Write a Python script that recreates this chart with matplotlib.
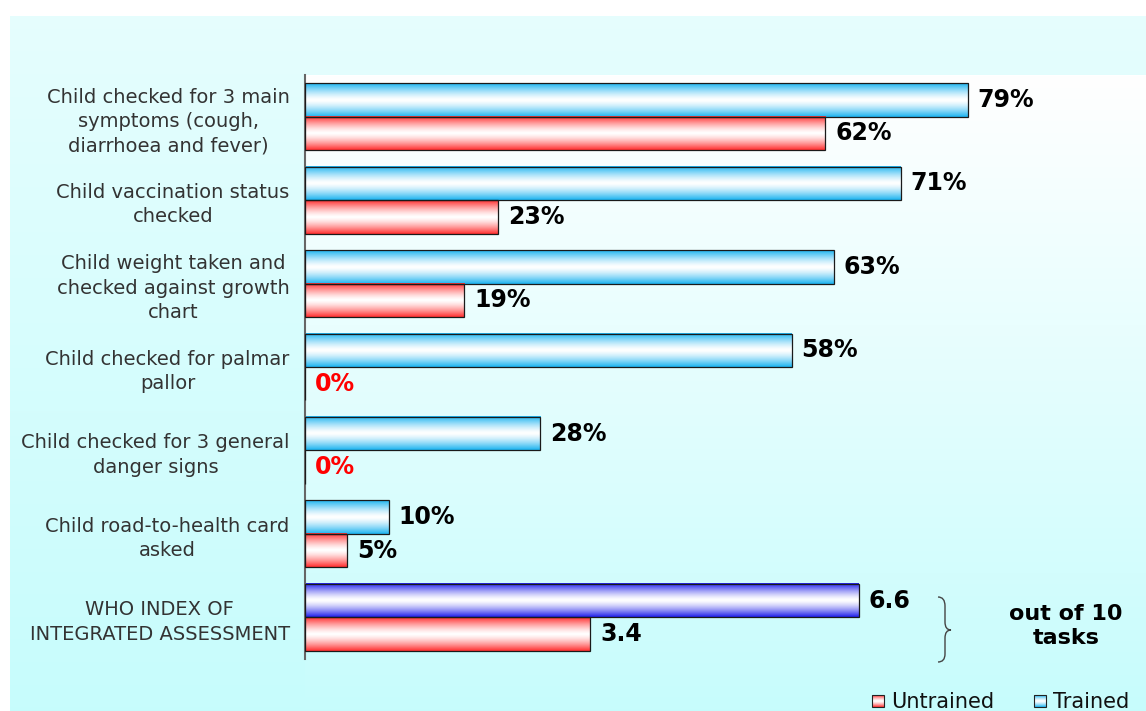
import numpy as np
import matplotlib
import matplotlib.pyplot as plt
from matplotlib.path import Path
from matplotlib.patches import PathPatch, Rectangle

matplotlib.use('Agg')

# Data
CATEGORIES = [
    "Child checked for 3 main\nsymptoms (cough,\ndiarrhoea and fever)",
    "Child vaccination status\nchecked",
    "Child weight taken and\nchecked against growth\nchart",
    "Child checked for palmar\npallor",
    "Child checked for 3 general\ndanger signs",
    "Child road-to-health card\nasked",
]
TRAINED = [79, 71, 63, 58, 28, 10]
UNTRAINED = [62, 23, 19, 0, 0, 5]
INDEX_LABEL = "WHO INDEX OF\nINTEGRATED ASSESSMENT"
INDEX_TRAINED = 6.6
INDEX_UNTRAINED = 3.4
INDEX_SCALE = 10  # index is out of 10 tasks, shown on the 0-100 axis
LEGEND_LABELS = ["Untrained", "Trained"]
INDEX_NOTE = "out of 10\ntasks"

# Style constants
FIG_W, FIG_H = 1146, 711
TRAINED_COLOR = (0.1, 0.7, 0.94)
UNTRAINED_COLOR = (1.0, 0.18, 0.18)
INDEX_COLOR = (0.12, 0.12, 0.92)
PANEL_TOP = np.array([0.90, 0.995, 0.995])
PANEL_BOTTOM = np.array([0.78, 0.99, 0.99])
LABEL_COLOR = '#333333'
VALUE_SIZE = 17
CAT_SIZE = 14


def bar_gradient(color, n=128, power=1.4):
    # white in the middle of the bar, full colour at the top and bottom edges
    s = np.abs(np.linspace(-1, 1, n)) ** power
    c = np.array(color)
    img = (1 - s)[:, None] + s[:, None] * c[None, :]
    return img[:, None, :]


def vertical_gradient(top, bottom, n=256):
    t = np.linspace(0, 1, n)[:, None]
    img = (1 - t) * np.array(top)[None, :] + t * np.array(bottom)[None, :]
    return img[:, None, :]


def fill_bar(ax, patch, color):
    x, y = patch.get_x(), patch.get_y()
    w, h = patch.get_width(), patch.get_height()
    if w <= 0:
        return
    ax.imshow(bar_gradient(color), extent=[x, x + w, y + h, y], aspect='auto',
              interpolation='bilinear', zorder=2)


fig = plt.figure(figsize=(FIG_W / 100, FIG_H / 100), dpi=100, facecolor='white')

# Background panels drawn in pixel coordinates
bg = fig.add_axes([0, 0, 1, 1], zorder=0)
bg.imshow(vertical_gradient(PANEL_TOP, PANEL_BOTTOM), extent=[10, FIG_W, FIG_H, 16],
          aspect='auto', interpolation='bilinear')
bg.imshow(vertical_gradient([1, 1, 1], PANEL_BOTTOM), extent=[305, FIG_W, FIG_H, 75],
          aspect='auto', interpolation='bilinear')

# Main bar chart
ax = fig.add_axes([305 / FIG_W, 1 - 659 / FIG_H, 841 / FIG_W, 584 / FIG_H], zorder=1)
ax.patch.set_alpha(0)

n = len(CATEGORIES) + 1
pos = np.arange(n)
trained_vals = TRAINED + [INDEX_TRAINED * INDEX_SCALE]
untrained_vals = UNTRAINED + [INDEX_UNTRAINED * INDEX_SCALE]
trained_text = [f"{v}%" for v in TRAINED] + [f"{INDEX_TRAINED:.1f}"]
untrained_text = [f"{v}%" for v in UNTRAINED] + [f"{INDEX_UNTRAINED:.1f}"]

tb = ax.barh(pos - 0.2, trained_vals, height=0.4, facecolor='none',
             edgecolor='#1a1a1a', linewidth=0.9, zorder=3)
ub = ax.barh(pos + 0.2, untrained_vals, height=0.4, facecolor='none',
             edgecolor='#1a1a1a', linewidth=0.9, zorder=3)

for i, bar in enumerate(tb):
    fill_bar(ax, bar, INDEX_COLOR if i == n - 1 else TRAINED_COLOR)
for bar in ub:
    fill_bar(ax, bar, UNTRAINED_COLOR)

for bars, vals, texts in [(tb, trained_vals, trained_text), (ub, untrained_vals, untrained_text)]:
    for bar, v, t in zip(bars, vals, texts):
        ax.annotate(t, xy=(bar.get_width(), bar.get_y() + bar.get_height() / 2),
                    xytext=(7, 0), textcoords='offset points', ha='left', va='center',
                    fontsize=VALUE_SIZE, fontweight='bold',
                    color='#ff0000' if v == 0 else 'black')

ax.set_yticks(pos, CATEGORIES + [INDEX_LABEL], fontsize=CAT_SIZE, color=LABEL_COLOR)
for lbl in ax.get_yticklabels():
    lbl.set_multialignment('center')
    lbl.set_linespacing(1.35)
ax.tick_params(axis='y', length=0, pad=11)
ax.set_xticks([])
ax.set_xlim(0, 100.2)
ax.set_ylim(n - 0.5, -0.5)
for side in ['top', 'right', 'bottom']:
    ax.spines[side].set_visible(False)
ax.spines['left'].set_color('#666666')
ax.spines['left'].set_linewidth(1.5)

# Brace next to the index bars
brace = Path(
    [(938, 597), (945, 597), (945, 606), (945, 622), (945, 630), (951, 630),
     (945, 630), (945, 638), (945, 654), (945, 662), (938, 662)],
    [Path.MOVETO, Path.CURVE3, Path.CURVE3, Path.LINETO, Path.CURVE3, Path.CURVE3,
     Path.CURVE3, Path.CURVE3, Path.LINETO, Path.CURVE3, Path.CURVE3])
bg.add_patch(PathPatch(brace, facecolor='none', edgecolor='#444444', linewidth=1))
bg.text(1066, 626, INDEX_NOTE, ha='center', va='center', fontsize=16,
        fontweight='bold', linespacing=1.25)

# Legend
for x0, color, label in [(872, UNTRAINED_COLOR, LEGEND_LABELS[0]),
                         (1034, TRAINED_COLOR, LEGEND_LABELS[1])]:
    bg.imshow(bar_gradient(color), extent=[x0, x0 + 12, 707, 695],
              aspect='auto', interpolation='bilinear')
    bg.add_patch(Rectangle((x0, 695), 12, 12, facecolor='none',
                           edgecolor='#222222', linewidth=0.8))
    bg.text(x0 + 19, 702, label, ha='left', va='center', fontsize=15, color='#111111')

bg.set_xlim(0, FIG_W)
bg.set_ylim(FIG_H, 0)
bg.axis('off')

fig.savefig('out.png', dpi=100, facecolor='white')
